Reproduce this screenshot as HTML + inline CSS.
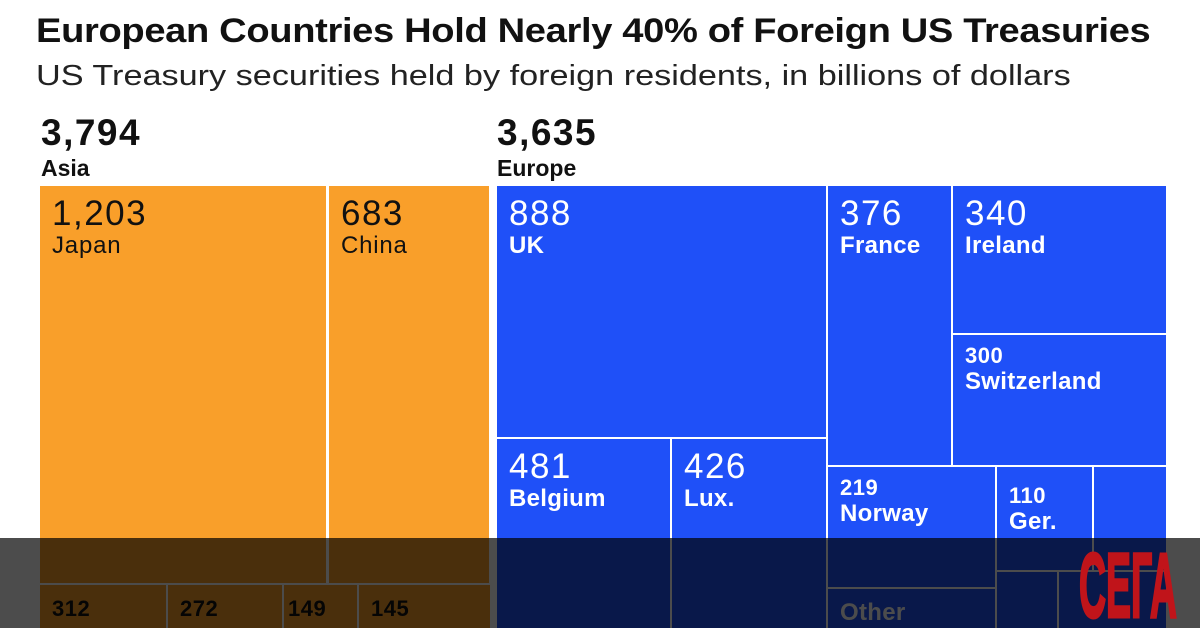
<!DOCTYPE html>
<html style="margin:0;width:1200px;height:628px;overflow:hidden"><head><meta charset="utf-8"><style>
body{margin:0;width:1200px;height:628px;overflow:hidden;background:#fff;font-family:"Liberation Sans",Arial,sans-serif;position:relative}
.a{position:absolute;white-space:nowrap}
.t{font-weight:bold}
.r{position:absolute;box-sizing:border-box;padding:10px 0 0 12px;line-height:1;overflow:hidden}
.o{background:#f99f2a;color:#111}
.b{background:#1f50f8;color:#fff}
.n{font-size:35px;display:block;letter-spacing:1.5px}
.l{font-size:24px;display:block;margin-top:3px;letter-spacing:0.3px}
.s .n{font-size:22px;font-weight:bold;letter-spacing:0.5px}
.s .l{font-size:24px}
#wrap{position:absolute;left:0;top:0;width:1200px;height:628px;overflow:hidden}
</style></head><body><div id="wrap">
<div class="a t" style="left:36px;top:12px;font-size:34px;letter-spacing:-0.3px;color:#111;transform:scaleX(1.12);transform-origin:left top">European Countries Hold Nearly 40% of Foreign US Treasuries</div>
<div class="a" style="left:36px;top:60px;font-size:29px;color:#222;transform:scaleX(1.18);transform-origin:left top">US Treasury securities held by foreign residents, in billions of dollars</div>
<div class="a t" style="left:41px;top:112px;font-size:37px;color:#111;letter-spacing:1.5px">3,794</div>
<div class="a t" style="left:41px;top:155px;font-size:23px;color:#111">Asia</div>
<div class="a t" style="left:497px;top:112px;font-size:37px;color:#111;letter-spacing:1.5px">3,635</div>
<div class="a t" style="left:497px;top:155px;font-size:23px;color:#111">Europe</div>

<div class="r o" style="left:40px;top:186px;width:286px;height:397px"><span class="n">1,203</span><span class="l" style="letter-spacing:0.8px">Japan</span></div>
<div class="r o" style="left:329px;top:186px;width:160px;height:397px"><span class="n">683</span><span class="l" style="letter-spacing:0.8px">China</span></div>
<div class="r o s" style="left:40px;top:585px;width:126px;height:60px;padding-top:13px"><span class="n">312</span></div>
<div class="r o s" style="left:168px;top:585px;width:114px;height:60px;padding-top:13px"><span class="n">272</span></div>
<div class="r o s" style="left:284px;top:585px;width:73px;height:60px;padding-top:13px;padding-left:4px"><span class="n">149</span></div>
<div class="r o s" style="left:359px;top:585px;width:131px;height:60px;padding-top:13px"><span class="n">145</span></div>

<div class="r b" style="left:497px;top:186px;width:329px;height:251px"><span class="n">888</span><span class="l t">UK</span></div>
<div class="r b" style="left:497px;top:439px;width:173px;height:200px"><span class="n">481</span><span class="l t">Belgium</span></div>
<div class="r b" style="left:672px;top:439px;width:154px;height:200px"><span class="n">426</span><span class="l t">Lux.</span></div>
<div class="r b" style="left:828px;top:186px;width:123px;height:279px"><span class="n">376</span><span class="l t">France</span></div>
<div class="r b" style="left:953px;top:186px;width:213px;height:147px"><span class="n">340</span><span class="l t">Ireland</span></div>
<div class="r b s" style="left:953px;top:335px;width:213px;height:130px"><span class="n">300</span><span class="l t">Switzerland</span></div>
<div class="r b s" style="left:828px;top:467px;width:167px;height:120px"><span class="n">219</span><span class="l t">Norway</span></div>
<div class="r b" style="left:828px;top:589px;width:167px;height:60px;padding-top:12px"><span class="l t" style="margin:0">Other</span></div>
<div class="r b s" style="left:997px;top:467px;width:95px;height:103px;padding-top:18px"><span class="n">110</span><span class="l t">Ger.</span></div>
<div class="r b" style="left:1094px;top:467px;width:72px;height:103px"></div>
<div class="r b" style="left:997px;top:572px;width:60px;height:60px"></div>
<div class="r b" style="left:1059px;top:572px;width:107px;height:60px"></div>

<div class="a" style="left:0;top:538px;width:1200px;height:90px;background:rgba(0,0,0,0.7)"></div>
<svg class="a" style="left:1078px;top:545px" width="102" height="76"><text x="1" y="72" font-family="Liberation Sans" font-weight="bold" font-size="92" fill="#c0141a" stroke="#c0141a" stroke-width="3" textLength="98" lengthAdjust="spacingAndGlyphs">СЕГА</text></svg>
</div></body></html>
